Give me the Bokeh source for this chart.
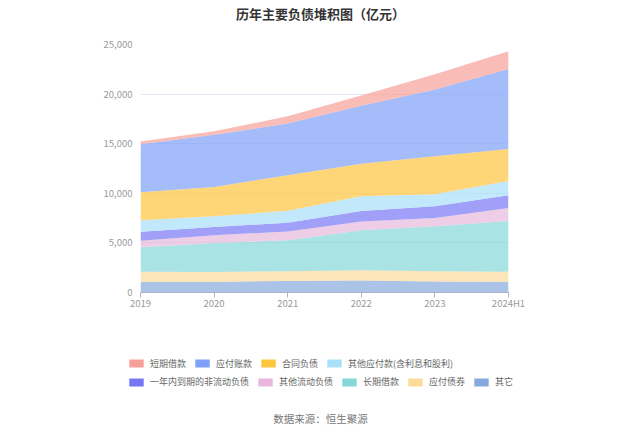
from bokeh.plotting import figure
from bokeh.models import (ColumnDataSource, Range1d, FixedTicker, NumeralTickFormatter,
                          Legend, LegendItem, Label)
from bokeh.layouts import column
from bokeh.embed import file_html
from bokeh.resources import INLINE

years = ["2019", "2020", "2021", "2022", "2023", "2024H1"]

# 亿元, stacked bottom -> top
qita = [1060, 1070, 1170, 1200, 1100, 1070]          # 其它
yingfu_zhaiquan = [1040, 1000, 980, 1050, 1050, 1010]  # 应付债券
changqi_jiekuan = [2470, 2920, 3120, 4020, 4530, 5140]  # 长期借款
qita_liudong = [650, 780, 880, 880, 840, 1310]        # 其他流动负债
yinian_daoqi = [900, 840, 870, 1070, 1180, 1280]      # 一年内到期的非流动负债
qita_yingfu = [1170, 1080, 1210, 1480, 1210, 1440]    # 其他应付款(含利息和股利)
hetong_fuzhai = [2820, 2950, 3600, 3290, 3830, 3220]  # 合同负债
yingfu_zhangkuan = [4830, 5250, 5200, 5840, 6720, 8060]  # 应付账款
duanqi_jiekuan = [280, 360, 740, 1040, 1540, 1780]    # 短期借款

series = [
    ("其它", qita, "#87a9db"),
    ("应付债券", yingfu_zhaiquan, "#fbda9a"),
    ("长期借款", changqi_jiekuan, "#86d7d7"),
    ("其他流动负债", qita_liudong, "#e7b8db"),
    ("一年内到期的非流动负债", yinian_daoqi, "#7777f5"),
    ("其他应付款(含利息和股利)", qita_yingfu, "#a8e0f9"),
    ("合同负债", hetong_fuzhai, "#ffc53d"),
    ("应付账款", yingfu_zhangkuan, "#7fa0fa"),
    ("短期借款", duanqi_jiekuan, "#f69f98"),
]

x = list(range(len(years)))
data = {"x": x}
names = []
for i, (name, vals, c) in enumerate(series):
    key = f"s{i}"
    names.append(key)
    data[key] = vals
source = ColumnDataSource(data)

FONT = "Noto Sans CJK SC"
W = 640


def bare_fig(h):
    f = figure(width=W, height=h, output_backend="svg", toolbar_location=None,
               x_range=Range1d(0, W), y_range=Range1d(0, h),
               x_axis_location=None, y_axis_location=None,
               min_border=0, min_border_left=0, min_border_right=0,
               min_border_top=0, min_border_bottom=0, frame_align=False)
    f.outline_line_color = None
    f.grid.visible = False
    return f


# ---- title strip ----
TOP_H = 34
top = bare_fig(TOP_H)
top.add_layout(Label(x=320, y=TOP_H - 12.5, x_units="screen", y_units="screen",
                     text="历年主要负债堆积图（亿元）", text_align="center",
                     text_baseline="middle", text_font=FONT, text_font_size="13px",
                     text_font_style="bold", text_color="#333333"))

# ---- main chart ----
MAIN_H = 288
p = figure(width=W, height=MAIN_H, output_backend="svg", toolbar_location=None,
           x_range=Range1d(0, len(years) - 1), y_range=Range1d(0, 25000),
           min_border_left=140, min_border_right=132, min_border_top=10,
           min_border_bottom=30, frame_align=False)
p.outline_line_color = None
p.background_fill_color = "white"
p.border_fill_color = "white"

colors = [c for _, _, c in series]
p.varea_stack(stackers=names, x="x", source=source, color=colors, fill_alpha=0.7)

p.xgrid.grid_line_color = None
p.ygrid.grid_line_color = "#e6e6f2"
p.ygrid.grid_line_width = 1
p.yaxis.ticker = FixedTicker(ticks=[0, 5000, 10000, 15000, 20000, 25000])
p.yaxis.formatter = NumeralTickFormatter(format="0,0")
p.yaxis.axis_line_color = None
p.yaxis.major_tick_line_color = None
p.yaxis.minor_tick_line_color = None
p.yaxis.major_label_standoff = 2
p.yaxis.major_label_text_color = "#999999"
p.yaxis.major_label_text_font = FONT
p.yaxis.major_label_text_font_size = "9.5px"

p.xaxis.ticker = FixedTicker(ticks=x)
p.xaxis.major_label_overrides = {i: y for i, y in enumerate(years)}
p.xaxis.axis_line_color = "#aab4c6"
p.xaxis.major_tick_line_color = "#aab4c6"
p.xaxis.major_tick_out = 5
p.xaxis.major_tick_in = 0
p.xaxis.minor_tick_line_color = None
p.xaxis.major_label_standoff = -2
p.xaxis.major_label_text_color = "#999999"
p.xaxis.major_label_text_font = FONT
p.xaxis.major_label_text_font_size = "9.5px"

# ---- legend + source strip ----
BOT_H = 433 - TOP_H - MAIN_H
bot = bare_fig(BOT_H)
legend_rends = {}
for i, (name, vals, c) in enumerate(series):
    r = bot.varea(x="x", y1=0, y2=names[i], source=source, fill_color=c, fill_alpha=1.0,
                  visible=False)
    legend_rends[name] = r

row1 = ["短期借款", "应付账款", "合同负债", "其他应付款(含利息和股利)"]
row2 = ["一年内到期的非流动负债", "其他流动负债", "长期借款", "应付债券", "其它"]


def make_legend(labels, loc):
    return Legend(items=[LegendItem(label=l, renderers=[legend_rends[l]]) for l in labels],
                  location=loc, orientation="horizontal", glyph_width=18, glyph_height=10,
                  label_height=10, label_standoff=5, spacing=7, padding=0, margin=0,
                  border_line_color=None, background_fill_alpha=0,
                  label_text_font=FONT, label_text_font_size="9px",
                  label_text_color="#666666", click_policy="none")


# row centres at y = 363.7 and 382 in page coordinates
bot.add_layout(make_legend(row1, (127, BOT_H - (363.7 - TOP_H - MAIN_H) - 6)))
bot.add_layout(make_legend(row2, (127, BOT_H - (382 - TOP_H - MAIN_H) - 6)))

bot.add_layout(Label(x=320, y=BOT_H - (418 - TOP_H - MAIN_H), x_units="screen", y_units="screen",
                     text="数据来源：恒生聚源", text_align="center",
                     text_baseline="middle", text_font=FONT, text_font_size="10.5px",
                     text_color="#777777"))

layout = column(top, p, bot, spacing=0)
open("out.html", "w").write(file_html(layout, INLINE))
